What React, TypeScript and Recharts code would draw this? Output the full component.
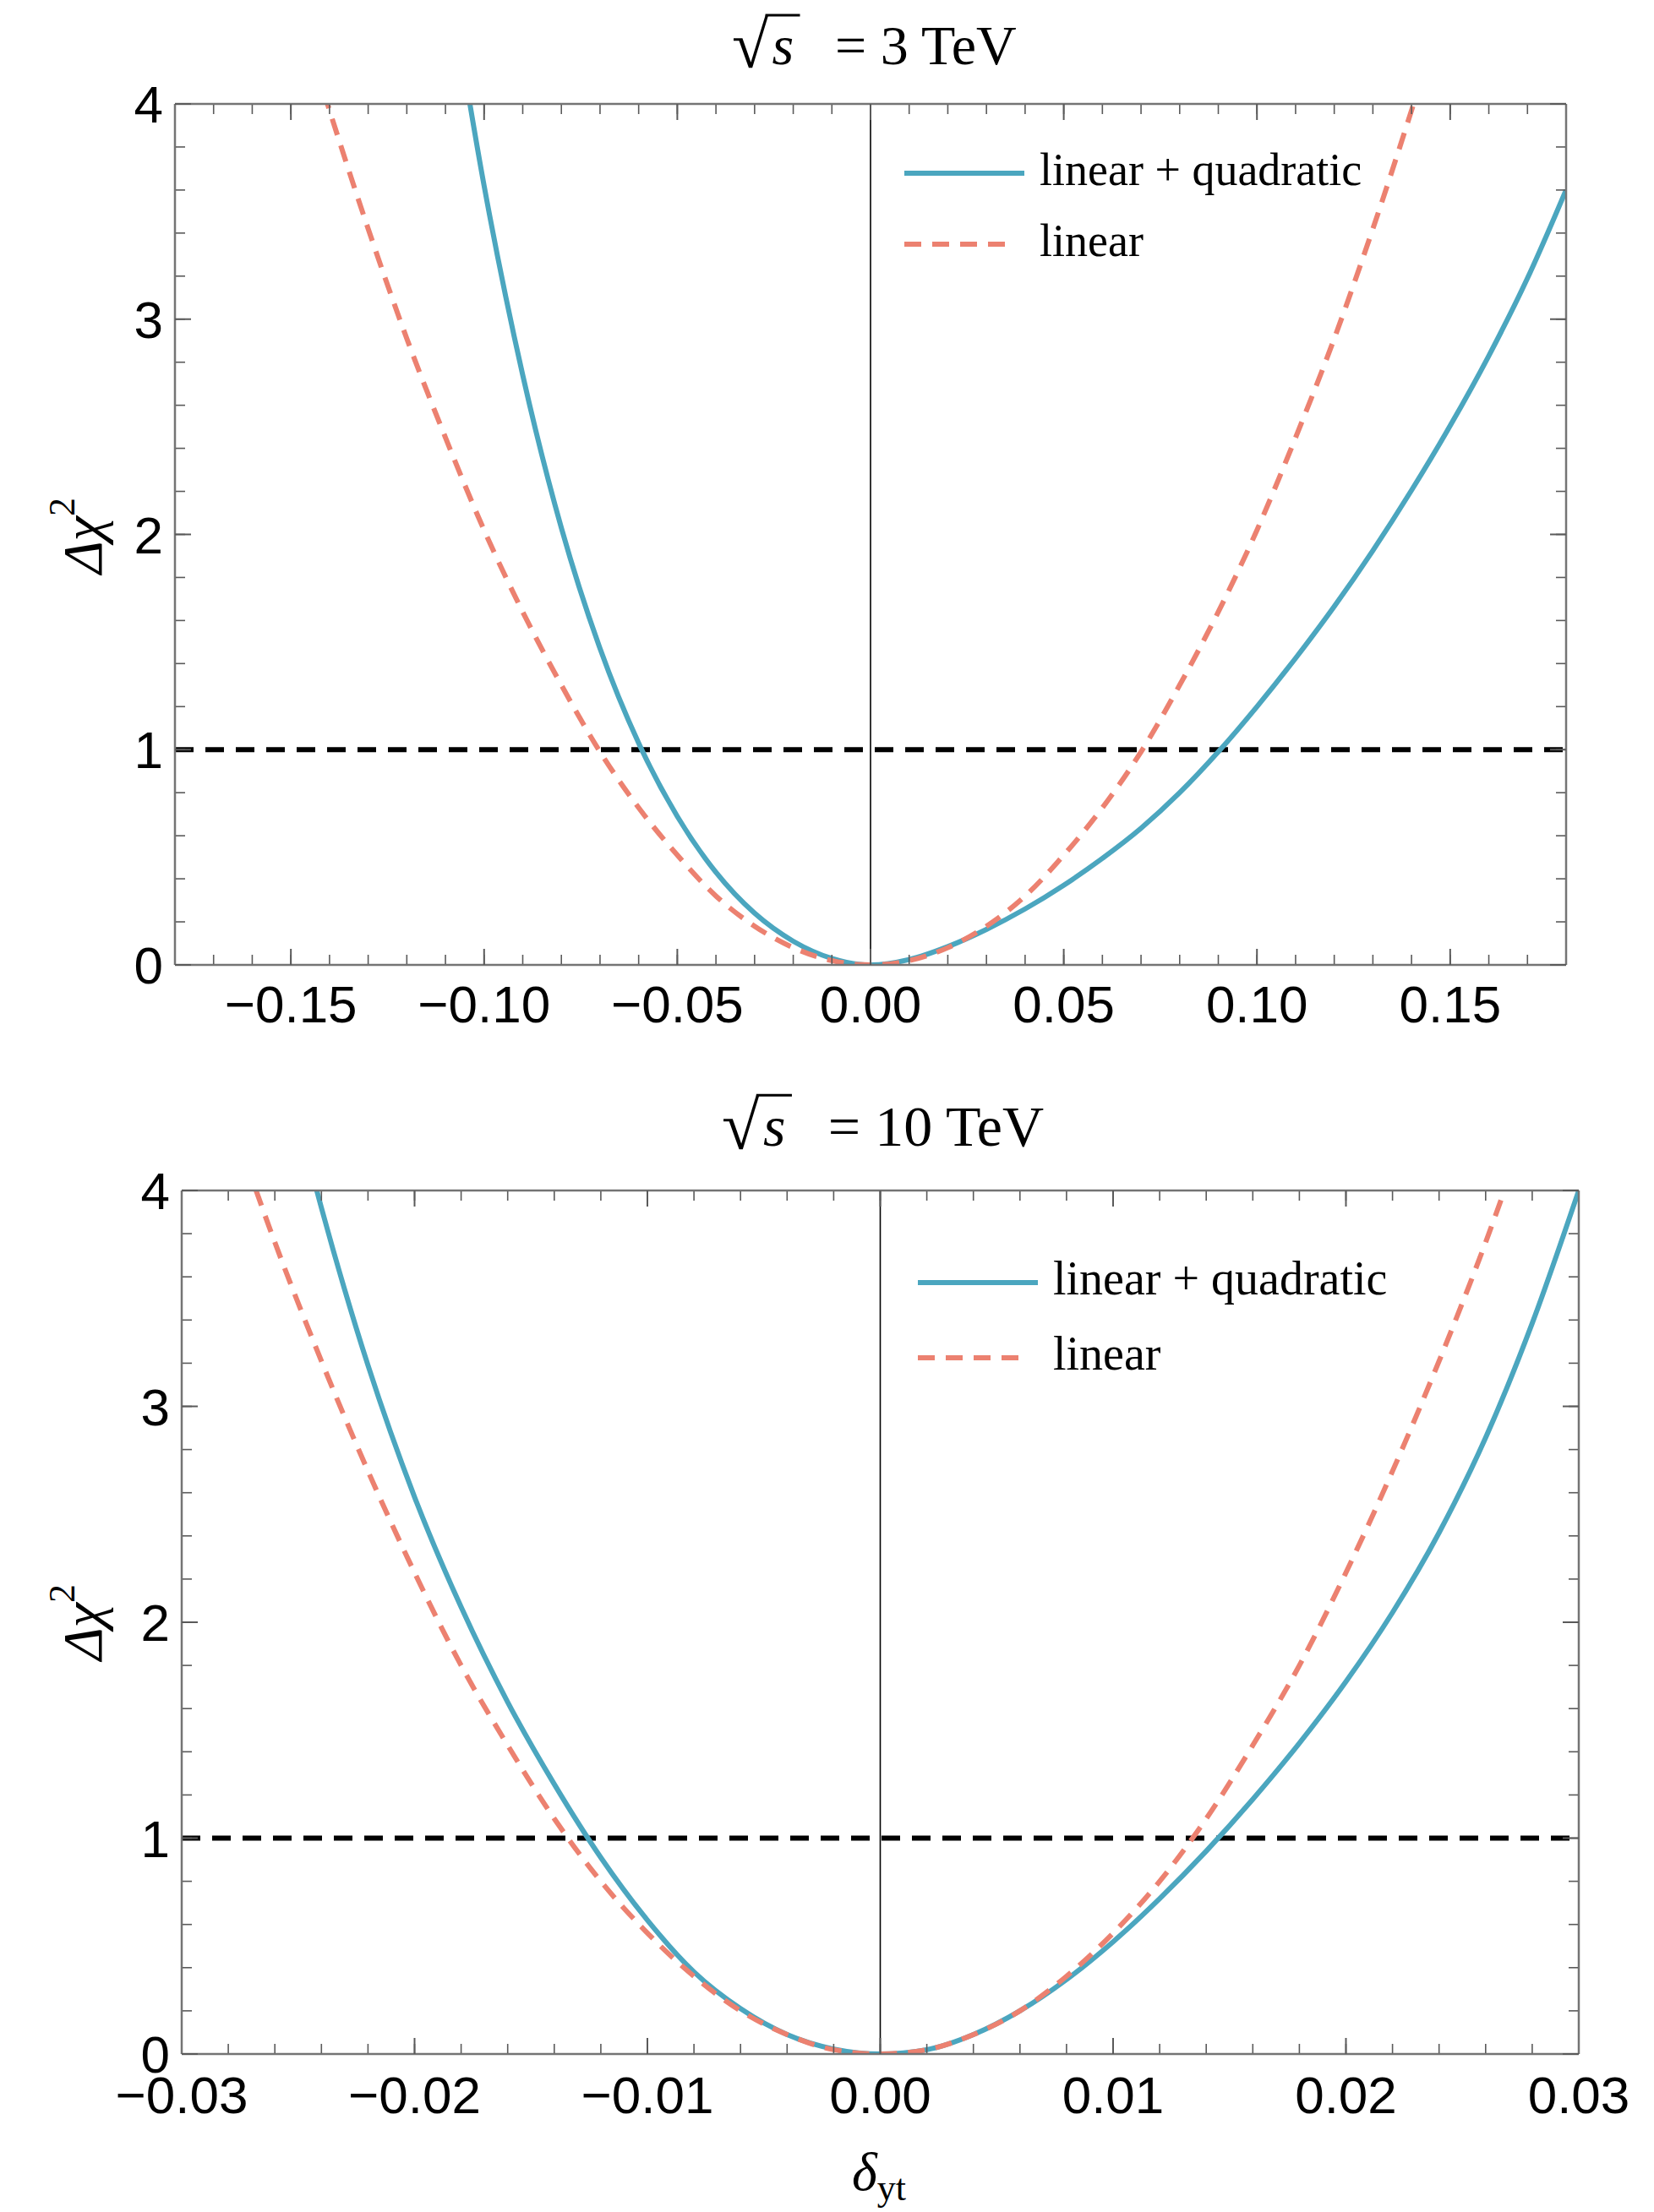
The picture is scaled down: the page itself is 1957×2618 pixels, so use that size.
import React from 'react';
import { LineChart, Line, XAxis, YAxis, ReferenceLine, Legend } from 'recharts';

// sqrt(s) = 3 TeV panel
const xTop = [
  -0.15, -0.14, -0.13, -0.12, -0.11, -0.1, -0.09, -0.08, -0.07, -0.06, -0.05, -0.04,
  -0.03, -0.02, -0.01, 0, 0.01, 0.02, 0.03, 0.04, 0.05, 0.06, 0.07, 0.08, 0.09, 0.1,
  0.11, 0.12, 0.13, 0.14, 0.15, 0.16, 0.17, 0.18,
];
const quadTop = [
  null, null, null, null, 4.7, 3.62, 2.74, 2.03, 1.47, 1.03, 0.69, 0.43,
  0.24, 0.11, 0.03, 0, 0.025, 0.085, 0.165, 0.26, 0.37, 0.495, 0.635, 0.8, 0.99, 1.2,
  1.425, 1.665, 1.925, 2.205, 2.505, 2.83, 3.19, 3.6,
];
const linTop = [
  4.55, 3.97, 3.42, 2.91, 2.45, 2.02, 1.64, 1.3, 0.99, 0.73, 0.51, 0.32,
  0.18, 0.08, 0.02, 0, 0.02, 0.08, 0.18, 0.32, 0.51, 0.73, 0.99, 1.3, 1.64, 2.02,
  2.45, 2.91, 3.42, 3.97, 4.55, null, null, null,
];

// sqrt(s) = 10 TeV panel
const xBottom = [
  -0.028, -0.026, -0.024, -0.022, -0.02, -0.018, -0.016, -0.014, -0.012, -0.01, -0.008,
  -0.006, -0.004, -0.002, 0, 0.002, 0.004, 0.006, 0.008, 0.01, 0.012, 0.014, 0.016,
  0.018, 0.02, 0.022, 0.024, 0.026, 0.028, 0.03,
];
const quadBottom = [
  null, 4.77, 3.92, 3.19, 2.58, 2.07, 1.63, 1.25, 0.91, 0.62, 0.38,
  0.21, 0.09, 0.023, 0, 0.02, 0.09, 0.2, 0.345, 0.52, 0.72, 0.94, 1.18,
  1.44, 1.725, 2.045, 2.415, 2.855, 3.385, 4.0,
];
const linBottom = [
  4.37, 3.76, 3.21, 2.7, 2.23, 1.8, 1.43, 1.09, 0.8, 0.56, 0.36,
  0.2, 0.09, 0.02, 0, 0.02, 0.09, 0.2, 0.36, 0.56, 0.8, 1.09, 1.43,
  1.8, 2.23, 2.7, 3.21, 3.76, 4.37, null,
];

const xMajorTop = [-0.15, -0.1, -0.05, 0, 0.05, 0.1, 0.15];
const xMajorBottom = [-0.03, -0.02, -0.01, 0, 0.01, 0.02, 0.03];
const yMajor = [0, 1, 2, 3, 4];

const QUAD = 'linear + quadratic';
const LIN = 'linear';
const seriesOrder = [QUAD, LIN];
const seriesStyle: Record<string, { color: string; dash?: string }> = {
  [QUAD]: { color: '#4BA6BF' },
  [LIN]: { color: '#EC8170', dash: '20 13' },
};

const SANS = '"Liberation Sans", Arial, Helvetica, sans-serif';
const SERIF = '"Liberation Serif", "Times New Roman", serif';
const FRAME = '#747474';
const TICK = '#5a5a5a';

// positions of the small frame ticks (not data)
const minorTicks = (lo: number, hi: number, step: number) => {
  const n = Math.round((hi - lo) / step);
  return Array.from({ length: n + 1 }, (_, i) => +(lo + i * step).toFixed(4));
};

const fmtX = (v: number) => {
  if (Math.abs(v) < 1e-9) return '0.00';
  return (v < 0 ? '\u2212' : '') + Math.abs(v).toFixed(2);
};
const blank = () => '';

const makeRows = (xs: number[], quad: (number | null)[], lin: (number | null)[]) =>
  xs.map((x, i) => ({ x, quad: quad[i], lin: lin[i] }));

type PanelProps = {
  xs: number[];
  quad: (number | null)[];
  lin: (number | null)[];
  domain: [number, number];
  majorX: number[];
  minorX: number[];
  height: number;
  margin: { top: number; right: number; bottom: number; left: number };
  tickMargin: number;
  legendPos: { left: number; top: number };
  legendFont: number;
  legendGap: number;
};

const LegendBox = ({ payload, fontSize, gap }: any) => {
  const names: string[] =
    payload && payload.length ? payload.map((e: any) => e.value) : seriesOrder;
  const items = [...names].sort((a, b) => seriesOrder.indexOf(a) - seriesOrder.indexOf(b));
  return (
    <svg width={720} height={200} style={{ display: 'block' }}>
      {items.map((name, i) => {
        const s = seriesStyle[name] || { color: '#000' };
        const y = 45 + i * gap;
        const len = s.dash ? 132 : 142;
        return (
          <g key={name}>
            <line x1={10} x2={10 + len} y1={y} y2={y} stroke={s.color} strokeWidth={6} strokeDasharray={s.dash} />
            <text x={170} y={y + 14} fontFamily={SERIF} fontSize={fontSize} fill="#000">
              {name}
            </text>
          </g>
        );
      })}
    </svg>
  );
};

const Panel = (p: PanelProps) => {
  const data = makeRows(p.xs, p.quad, p.lin);
  const minorY = minorTicks(0, 4, 0.2);
  const common = { type: 'number' as const, dataKey: 'x', domain: p.domain, allowDataOverflow: true, interval: 0 as const };
  const commonY = { type: 'number' as const, domain: [0, 4] as [number, number], allowDataOverflow: true, interval: 0 as const };
  return (
    <LineChart width={1957} height={p.height} data={data} margin={p.margin}>
      <XAxis
        {...common}
        ticks={p.majorX}
        tickFormatter={fmtX}
        height={80}
        tickSize={0}
        tickLine={false}
        tickMargin={p.tickMargin}
        axisLine={{ stroke: FRAME, strokeWidth: 2.5 }}
        tick={{ fill: '#000', fontSize: 62, fontFamily: SANS }}
      />
      <XAxis {...common} xAxisId="bMaj" ticks={p.majorX} mirror height={1} tickSize={19} tickLine={{ stroke: TICK, strokeWidth: 2 }} axisLine={false} tickFormatter={blank} />
      <XAxis {...common} xAxisId="bMin" ticks={p.minorX} mirror height={1} tickSize={11} tickLine={{ stroke: TICK, strokeWidth: 1.6 }} axisLine={false} tickFormatter={blank} />
      <XAxis {...common} xAxisId="tMaj" orientation="top" ticks={p.majorX} mirror height={1} tickSize={19} tickLine={{ stroke: TICK, strokeWidth: 2 }} axisLine={{ stroke: FRAME, strokeWidth: 2.5 }} tickFormatter={blank} />
      <XAxis {...common} xAxisId="tMin" orientation="top" ticks={p.minorX} mirror height={1} tickSize={11} tickLine={{ stroke: TICK, strokeWidth: 1.6 }} axisLine={false} tickFormatter={blank} />

      <YAxis
        {...commonY}
        ticks={yMajor}
        width={100}
        tickSize={0}
        tickLine={false}
        tickMargin={14}
        axisLine={{ stroke: FRAME, strokeWidth: 2.5 }}
        tick={{ fill: '#000', fontSize: 62, fontFamily: SANS }}
      />
      <YAxis {...commonY} yAxisId="lMaj" ticks={yMajor} mirror width={1} tickSize={19} tickLine={{ stroke: TICK, strokeWidth: 2 }} axisLine={false} tickFormatter={blank} />
      <YAxis {...commonY} yAxisId="lMin" ticks={minorY} mirror width={1} tickSize={11} tickLine={{ stroke: TICK, strokeWidth: 1.6 }} axisLine={false} tickFormatter={blank} />
      <YAxis {...commonY} yAxisId="rMaj" orientation="right" ticks={yMajor} mirror width={1} tickSize={19} tickLine={{ stroke: TICK, strokeWidth: 2 }} axisLine={{ stroke: FRAME, strokeWidth: 2.5 }} tickFormatter={blank} />
      <YAxis {...commonY} yAxisId="rMin" orientation="right" ticks={minorY} mirror width={1} tickSize={11} tickLine={{ stroke: TICK, strokeWidth: 1.6 }} axisLine={false} tickFormatter={blank} />

      <ReferenceLine x={0} stroke="#000" strokeWidth={1.6} />
      <ReferenceLine y={1} stroke="#000" strokeWidth={6} strokeDasharray="22 14" />

      <Line
        name={QUAD}
        dataKey="quad"
        type="monotone"
        stroke={seriesStyle[QUAD].color}
        strokeWidth={6}
        dot={false}
        activeDot={false}
        isAnimationActive={false}
      />
      <Line
        name={LIN}
        dataKey="lin"
        type="monotone"
        stroke={seriesStyle[LIN].color}
        strokeWidth={6}
        strokeDasharray={seriesStyle[LIN].dash}
        dot={false}
        activeDot={false}
        isAnimationActive={false}
      />
      <Legend
        layout="vertical"
        align="center"
        verticalAlign="middle"
        wrapperStyle={{ left: p.legendPos.left, top: p.legendPos.top, width: 720, height: 200 }}
        content={(props: any) => <LegendBox payload={props.payload} fontSize={p.legendFont} gap={p.legendGap} />}
      />
    </LineChart>
  );
};

const Title = ({ x, y, size, rest }: { x: number; y: number; size: number; rest: string }) => (
  <g>
    <text x={x} y={y + 4} fontFamily={SERIF} fontSize={size * 1.2} fill="#000">{'\u221A'}</text>
    <line x1={x + size * 0.6} x2={x + size * 1.22} y1={y - size * 0.88} y2={y - size * 0.88} stroke="#000" strokeWidth={3} />
    <text x={x + size * 0.72} y={y} fontFamily={SERIF} fontStyle="italic" fontSize={size} fill="#000">s</text>
    <text x={x + size * 1.85} y={y} fontFamily={SERIF} fontSize={size} fill="#000">{rest}</text>
  </g>
);

const YLabel = ({ cx, cy }: { cx: number; cy: number }) => (
  <text transform={`rotate(-90, ${cx}, ${cy})`} x={cx} y={cy} textAnchor="middle" fontFamily={SERIF} fontSize={66} fill="#000">
    <tspan fontStyle="italic">{'\u0394\u03C7'}</tspan>
    <tspan fontSize={44} dy={-32}>2</tspan>
  </text>
);

export default function App() {
  return (
    <div style={{ position: 'absolute', left: 0, top: 0, width: 1957, height: 2618, background: '#fff' }}>
      <div style={{ position: 'absolute', left: 0, top: 0 }}>
        <Panel
          xs={xTop}
          quad={quadTop}
          lin={linTop}
          domain={[-0.18, 0.18]}
          majorX={xMajorTop}
          minorX={minorTicks(-0.18, 0.18, 0.01)}
          height={1240}
          margin={{ top: 123, right: 104, bottom: 18, left: 107 }}
          tickMargin={24}
          legendPos={{ left: 1060, top: 160 }}
          legendFont={54}
          legendGap={84}
        />
      </div>
      <div style={{ position: 'absolute', left: 0, top: 1300 }}>
        <Panel
          xs={xBottom}
          quad={quadBottom}
          lin={linBottom}
          domain={[-0.03, 0.03]}
          majorX={xMajorBottom}
          minorX={minorTicks(-0.03, 0.03, 0.002)}
          height={1230}
          margin={{ top: 109, right: 89, bottom: 19, left: 115 }}
          tickMargin={26}
          legendPos={{ left: 1076, top: 173 }}
          legendFont={56}
          legendGap={89}
        />
      </div>
      <svg width={1957} height={2618} style={{ position: 'absolute', left: 0, top: 0, pointerEvents: 'none' }}>
        <Title x={866} y={76} size={66} rest={'=  3 TeV'} />
        <Title x={854} y={1356} size={68} rest={'=  10 TeV'} />
        <YLabel cx={120} cy={634} />
        <YLabel cx={120} cy={1920} />
        <text x={1040} y={2592} textAnchor="middle" fontFamily={SERIF} fontSize={64} fill="#000">
          <tspan fontStyle="italic">{'\u03B4'}</tspan>
          <tspan fontSize={44} dy={12}>yt</tspan>
        </text>
      </svg>
    </div>
  );
}
